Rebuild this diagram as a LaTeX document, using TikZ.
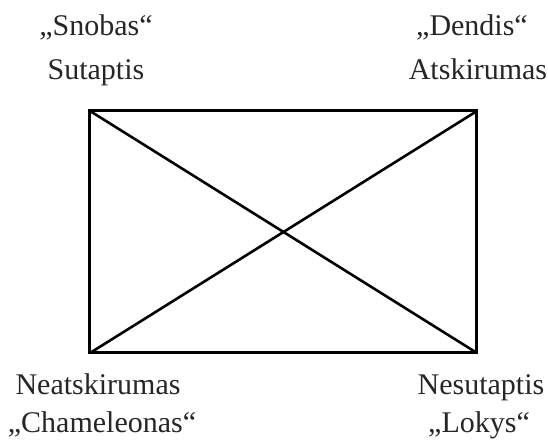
\documentclass[tikz,border=0pt]{standalone}
\usepackage{fontspec}
\setmainfont{Liberation Serif}
\usepackage{tikz}
\usetikzlibrary{positioning}

\begin{document}
\begin{tikzpicture}[
  x=0.5pt, y=-0.5pt,
  font=\fontsize{15}{18}\selectfont,
  lbl/.style={anchor=base,inner sep=0pt,text=black!85},
  edge/.style={line width=1.5pt,line cap=rect},
  diag/.style={line width=1.3pt},
]
\useasboundingbox (0,0) rectangle (548,448);
\coordinate (tl) at (90,111);
\coordinate (tr) at (477,111);
\coordinate (br) at (477,353);
\coordinate (bl) at (90,353);

\draw[edge] (tl) -- (tr) -- (br) -- (bl) -- cycle;
\draw[diag] (tl) -- (br);
\draw[diag] (tr) -- (bl);

% corner labels
\node[lbl] (snob)  at (96,36)   {„Snobas“};
\node[lbl] (sut)   at (96,80)   {Sutaptis};
\node[lbl] (dend)  at (472,36)  {„Dendis“};
\node[lbl] (atsk)  at (478,80)  {Atskirumas};
\node[lbl] (neat)  at (98,395)  {Neatskirumas};
\node[lbl] (cham)  at (102,433) {„Chameleonas“};
\node[lbl] (nesut) at (481,395) {Nesutaptis};
\node[lbl] (lok)   at (479,433) {„Lokys“};
\end{tikzpicture}
\end{document}
